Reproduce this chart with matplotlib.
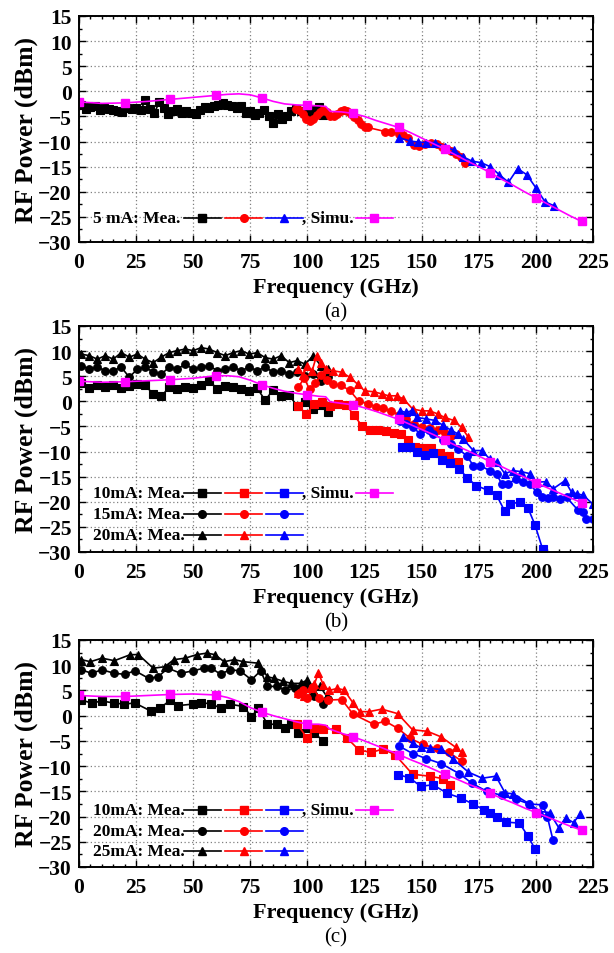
import matplotlib
matplotlib.use("Agg")
import matplotlib.pyplot as plt
from matplotlib.ticker import MultipleLocator

plt.rcParams['font.family'] = ['Liberation Serif', 'DejaVu Serif']

# ---------------- data: panel (a) 5 mA ----------------
a_blk_f = [1, 3, 5, 7, 9, 11, 13, 15, 17, 19, 21, 23, 25, 27, 29, 31, 33, 35, 37, 39,
           41, 43, 45, 47, 49, 51, 53, 55, 57, 59, 61, 63, 65, 67, 69, 71, 73, 75, 77, 79,
           81, 83, 85, 87, 89, 91, 93, 95, 97, 99, 101, 103, 105, 107]
a_blk_v = [-2.8, -3.6, -3.2, -3.0, -3.8, -3.3, -3.5, -3.8, -3.9, -4.2, -3.4, -3.6, -3.3, -3.8, -1.8, -3.5, -4.4, -2.2, -3.3, -4.5,
           -4.0, -3.6, -4.3, -4.0, -4.3, -4.6, -3.7, -3.2, -3.4, -2.9, -2.7, -2.4, -2.8, -3.0, -3.4, -3.0, -4.3, -4.0, -4.7, -4.3,
           -3.8, -5.0, -6.3, -4.6, -5.5, -5.0, -4.0, -3.5, -3.9, -4.3, -3.6, -4.5, -3.2, -4.8]
a_red_f = [95, 96.5, 98, 99.5, 101, 102.5, 104, 105.5, 107, 108.5, 110, 111.5, 113, 114.5, 116, 117.5, 119, 120.5, 122, 123.5,
           125, 126.5, 134, 136.5, 140, 142, 144, 146.5, 149, 151.5, 154, 156.5, 159, 161, 163, 165, 167, 169]
a_red_v = [-3.5, -3.8, -4.6, -5.5, -5.9, -5.6, -4.8, -4.1, -3.8, -4.2, -4.9, -5.0, -4.6, -3.9, -3.8, -4.0, -4.5, -5.2, -5.8, -6.6,
           -7.1, -7.2, -8.0, -8.0, -8.4, -8.7, -9.3, -10.7, -10.9, -10.4, -10.2, -10.5, -11.0, -11.4, -11.8, -12.4, -13.0, -14.3]
a_blu_f = [140, 145, 148.5, 152, 156, 160, 164, 168, 172, 176, 180, 184, 188, 192, 196, 200, 204, 208]
a_blu_v = [-9.2, -9.9, -10.1, -10.2, -10.2, -11.0, -11.7, -13.0, -13.9, -14.2, -15.0, -16.6, -18.1, -15.4, -16.6, -19.2, -22.0, -22.8]

sim_f = [0, 10, 20, 30, 40, 50, 60, 65, 70, 75, 80, 85, 90, 95, 100, 105, 108, 110, 115, 120,
         125, 130, 135, 140, 145, 150, 155, 160, 165, 170, 175, 180, 185, 190, 195, 200, 205, 210, 215, 220]
a_sim_v = [-2.1, -2.4, -2.3, -2.0, -1.6, -1.2, -0.8, -0.6, -0.5, -0.7, -1.3, -2.0, -2.5, -2.7, -2.8, -2.9, -3.0, -4.0, -4.1, -4.4,
           -5.0, -5.8, -6.5, -7.2, -8.2, -9.3, -10.4, -11.5, -12.7, -13.9, -15.0, -16.2, -17.5, -18.7, -20.0, -21.2, -22.4, -23.6, -24.8, -25.9]

# ---------------- data: panel (b) 10/15/20 mA ----------------
b_blk_f = [1, 4.5, 8, 11.5, 15, 18.5, 22, 25.5, 29, 32.5, 36, 39.5, 43, 46.5, 50, 53.5, 57, 60.5, 64, 67.5,
           71, 74.5, 78, 81.5, 85, 88.5, 92, 95.5, 99, 102.5, 106, 109]
b_blk_sq_v = [3.6, 2.6, 3.2, 2.8, 3.3, 2.7, 3.0, 3.4, 3.2, 1.4, 1.0, 2.8, 2.4, 2.9, 2.6, 3.2, 4.1, 2.5, 3.0, 2.8,
              2.4, 2.0, 2.6, 0.2, 2.3, 1.1, 1.2, -0.9, -0.2, -1.5, -0.8, -2.2]
b_blk_ci_v = [7.1, 6.4, 6.8, 6.1, 6.1, 6.8, 4.8, 6.4, 6.8, 5.8, 5.4, 6.8, 6.4, 7.4, 6.4, 6.8, 7.1, 6.1, 6.4, 6.8,
              6.1, 6.8, 6.1, 6.8, 5.8, 6.1, 5.4, 5.8, 5.1, 5.4, 4.1, 4.8]
b_blk_tr_v = [9.4, 9.1, 8.4, 9.1, 8.4, 9.7, 8.8, 9.4, 8.4, 7.7, 8.8, 9.7, 10.1, 10.4, 10.1, 10.7, 10.4, 9.7, 9.1, 9.7,
              10.1, 9.4, 9.7, 8.7, 8.4, 9.1, 7.7, 8.1, 7.4, 9.1, 7.0, 6.4]
b_red_sq_f = [96, 99.5, 103, 106.5, 110, 113.5, 117, 120.5, 124, 127.5, 131, 134.5, 138, 141, 144, 147, 150.5, 154, 158, 162, 166]
b_red_sq_v = [-0.9, -2.6, -0.5, -0.1, -0.9, -0.6, -0.8, -2.8, -5.0, -5.7, -5.7, -6.0, -6.4, -6.5, -7.6, -9.1, -9.3, -9.3, -10.3, -10.8, -12.0]
b_red_ci_f = [96, 98.5, 101, 103.5, 106, 108.5, 111, 114.5, 118.5, 122.5, 126.5, 130, 133, 136.5, 140, 143, 146.5, 150, 153.5, 157, 160, 163]
b_red_ci_v = [2.8, 4.6, 2.4, 3.6, 5.3, 4.2, 3.4, 3.2, 2.2, 0.0, -0.5, -1.1, -1.4, -1.9, -2.7, -3.6, -4.6, -5.1, -5.3, -5.8, -6.4, -6.9]
b_red_tr_f = [96, 98, 100, 102, 104, 106, 108, 111, 115, 118.5, 122, 125, 129, 132.5, 135.5, 139, 142, 146, 150, 153.5,
              157, 160, 164, 167.5, 170.5]
b_red_tr_v = [6.4, 5.2, 7.0, 6.0, 9.1, 7.6, 6.4, 6.1, 5.8, 4.8, 3.4, 2.1, 1.9, 1.5, 1.1, 1.1, 0.5, -1.5, -1.9, -1.9,
              -2.5, -3.2, -3.8, -5.2, -7.2]
b_blu_sq_f = [141.3, 145, 147.8, 151.5, 155, 158.7, 162.4, 166.5, 170, 174, 179, 182.8, 186.4, 188.6, 193, 196.6, 199.6, 203]
b_blu_sq_v = [-9.0, -9.1, -10.1, -10.7, -10.3, -11.6, -12.3, -13.4, -15.3, -16.8, -17.7, -18.7, -21.9, -20.4, -20.1, -21.3, -24.6, -29.5]
b_blu_ci_f = [140.5, 143, 146.4, 149.3, 153, 155, 159.5, 163, 166, 169.7, 172.6, 175.5, 179.9, 182.8, 185, 188, 191.5, 194.5,
              197.4, 200.3, 202.5, 205.4, 207.6, 210.5, 213.4, 218.5, 220.7, 222, 225]
b_blu_ci_v = [-4.0, -4.5, -5.2, -6.5, -5.8, -6.5, -7.6, -8.5, -9.5, -10.8, -12.8, -12.8, -13.8, -14.5, -16.4, -16.4, -15.4, -16.1,
              -16.4, -18.1, -19.1, -19.3, -19.1, -19.4, -19.1, -21.7, -22.0, -23.4, -23.4]
b_blu_tr_f = [140.5, 143, 145.6, 147.8, 152, 155.8, 159.5, 163, 166, 168.2, 172.6, 176.2, 179.9, 182.8, 186.4, 190, 193.6,
              197.4, 200.3, 204.4, 207.6, 212.7, 215.6, 217.8, 220.7, 224.8]
b_blu_tr_v = [-1.9, -2.2, -1.9, -3.2, -3.5, -3.8, -4.8, -5.8, -6.5, -7.5, -9.8, -9.8, -11.5, -12.1, -14.4, -13.8, -14.0,
              -14.4, -16.1, -16.0, -17.4, -15.8, -18.1, -18.4, -18.7, -20.4]
b_sim_v = [4.0, 3.8, 3.9, 4.1, 4.3, 4.6, 5.1, 5.1, 4.9, 4.2, 3.3, 2.6, 2.0, 1.6, 1.3, 1.0, 0.9, -0.1, -0.4, -0.7,
           -1.3, -2.0, -2.8, -3.6, -4.6, -5.6, -6.6, -7.7, -8.8, -9.8, -10.9, -12.0, -13.0, -14.1, -15.1, -16.2, -17.2, -18.2, -19.2, -20.2]

# ---------------- data: panel (c) 10/20/25 mA ----------------
c_blk_sq_f = [1, 5.5, 10, 15.5, 19.5, 24.5, 31.5, 35.5, 40, 43.5, 50, 53.5, 58, 62, 66, 72, 75.5, 78.5, 82.5, 86.5, 90, 93, 96, 100, 103, 107]
c_blk_sq_v = [3.1, 2.5, 2.9, 2.5, 2.3, 2.5, 0.9, 1.5, 3.1, 2.0, 2.3, 2.6, 2.3, 1.5, 2.3, 1.8, -0.2, 1.5, -1.7, -1.7, -2.5, -1.7, -3.5, -2.5, -3.5, -5.0]
c_blk_ci_f = [1, 5.5, 10, 15.5, 20, 24.5, 30.5, 34.5, 39, 44.5, 50, 54.5, 58, 62, 66, 70.5, 75.5, 79.5, 82.5, 86.5, 90, 94.5, 99, 103, 107, 109]
c_blk_ci_v = [9.1, 8.4, 9.1, 8.4, 8.2, 8.9, 7.4, 7.7, 9.4, 8.4, 8.9, 9.4, 9.4, 8.2, 9.1, 8.9, 7.1, 8.9, 5.8, 5.8, 5.1, 5.4, 5.8, 3.8, 2.3, 3.4]
c_blk_tr_f = [1, 5, 10, 15.5, 22.5, 26, 32.5, 37.5, 41.5, 46.5, 51.5, 56, 59.5, 63.5, 68, 72, 78.5, 82.5, 85.5, 89.5, 93, 97, 100, 102.5, 105.5, 108.5]
c_blk_tr_v = [11.1, 10.7, 11.4, 10.9, 12.1, 12.1, 9.4, 9.7, 11.1, 11.4, 12.1, 12.4, 12.1, 10.7, 11.1, 10.7, 10.4, 7.7, 7.4, 6.8, 6.4, 6.4, 7.1, 5.1, 5.8, 3.8]
c_red_sq_f = [95.5, 100, 103, 107, 112.5, 117.5, 122.5, 128, 133, 138.5, 146, 153.5, 159.5, 162.5]
c_red_sq_v = [-1.7, -4.5, -2.5, -2.6, -2.7, -4.5, -6.8, -7.3, -6.6, -7.8, -11.6, -12.0, -12.5, -13.8]
c_red_ci_f = [96, 98, 100, 102.5, 105, 109, 115, 120, 129, 134, 139.5, 145, 150.5, 156.5, 162, 167.5]
c_red_ci_v = [4.2, 5.0, 3.6, 5.6, 3.6, 3.1, 3.2, 0.3, -1.7, -1.1, -2.5, -4.5, -5.7, -6.5, -7.3, -9.0]
c_red_tr_f = [96, 98.5, 101, 103, 104.8, 107, 109.5, 113, 116, 120, 123, 127, 132.5, 139.5, 146, 152.5, 158.5, 165, 167.5]
c_red_tr_v = [4.4, 3.8, 5.5, 6.2, 8.5, 6.0, 5.0, 5.4, 5.1, 2.5, 0.8, 0.8, 1.3, 0.4, -2.8, -3.1, -4.2, -6.3, -7.3]
c_blu_sq_f = [139.7, 144.6, 149.6, 155, 161.2, 167, 172.4, 177.4, 179.7, 183, 187, 192.8, 196.4, 199.6]
c_blu_sq_v = [-11.7, -12.3, -14.0, -13.7, -15.4, -16.3, -17.5, -18.7, -19.2, -20.1, -21.1, -21.3, -23.8, -26.4]
c_blu_ci_f = [140, 146, 152, 158.5, 166.5, 172, 178.5, 185, 191.5, 197, 203, 205, 207.5]
c_blu_ci_v = [-6.0, -7.5, -8.5, -9.5, -11.5, -13.4, -15.0, -15.8, -16.6, -17.5, -17.7, -20.0, -24.7]
c_blu_tr_f = [142, 146, 149.5, 153.5, 158.5, 163.5, 170.5, 176.5, 182.5, 186.5, 190, 197.5, 202, 206, 210, 213, 216.5, 219.5]
c_blu_tr_v = [-4.2, -5.5, -6.3, -6.5, -6.7, -8.5, -11.2, -12.4, -12.0, -15.3, -15.5, -17.6, -19.0, -19.2, -22.2, -20.3, -21.2, -19.4]
c_sim_v = [4.0, 3.8, 3.8, 4.0, 4.2, 4.3, 4.1, 3.6, 2.8, 1.6, 0.7, 0.0, -0.6, -1.2, -1.7, -1.7, -1.9, -2.7, -3.5, -4.2,
           -5.0, -5.9, -6.8, -7.7, -8.7, -9.6, -10.6, -11.6, -12.5, -13.5, -14.4, -15.4, -16.4, -17.3, -18.3, -19.2, -20.1, -21.0, -21.9, -22.7]

x_ticks = [0, 25, 50, 75, 100, 125, 150, 175, 200, 225]
y_ticks = [-30, -25, -20, -15, -10, -5, 0, 5, 10, 15]

BLK, RED, BLU, MAG = '#000000', '#ff0000', '#0000ff', '#ff00ff'
MS = 5.5
LW = 1.2

fig = plt.figure(figsize=(6.14, 9.54), dpi=100)
L, W = 79 / 614, 514 / 614
rects = [(L, 1 - 243 / 954, W, 226 / 954),
         (L, 1 - 553 / 954, W, 226 / 954),
         (L, 1 - 868 / 954, W, 227 / 954)]
captions = ['(a)', '(b)', '(c)']


def style_axes(ax):
    ax.set_xlim(0, 225)
    ax.set_ylim(-30, 15)
    ax.set_xticks(x_ticks)
    ax.set_yticks(y_ticks)
    ax.xaxis.set_minor_locator(MultipleLocator(5))
    ax.yaxis.set_minor_locator(MultipleLocator(2.5))
    ax.tick_params(which='both', direction='in', top=True, right=True, width=1.0)
    ax.tick_params(which='major', length=5, labelsize=15.5)
    ax.tick_params(axis='x', which='major', pad=7)
    ax.tick_params(axis='y', which='major', pad=5)
    ax.tick_params(which='minor', length=2.5)
    for lab in ax.get_xticklabels() + ax.get_yticklabels():
        lab.set_fontweight('bold')
    for sp in ax.spines.values():
        sp.set_linewidth(1.4)
    ax.grid(True, which='major', linestyle=(0, (1, 2)), color='#808080', linewidth=0.9)
    ax.set_axisbelow(True)
    ax.set_xlabel('Frequency (GHz)', fontsize=16, fontweight='bold', labelpad=4)
    ax.set_ylabel('RF Power (dBm)', fontsize=18.5, fontweight='bold', labelpad=0)


def series(ax, f, v, color, marker):
    ax.plot(f, v, color=color, marker=marker, markersize=MS, linewidth=LW,
            markeredgewidth=0.8, markeredgecolor=color)


def sim(ax, v):
    mk = [i for i, f in enumerate(sim_f) if f % 20 == 0]
    ax.plot(sim_f, v, color=MAG, marker='s', markersize=MS, linewidth=LW,
            markevery=mk)


def legend_row(ax, y, text, markers, simu=False):
    tr = ax.transAxes
    ax.text(0.027, y, text, transform=tr, fontsize=12.5, fontweight='bold',
            va='center', ha='left')
    spans = [(0.204, 0.276, BLK), (0.284, 0.357, RED), (0.364, 0.435, BLU)]
    for (x0, x1, c), m in zip(spans, markers):
        ax.plot([x0, (x0 + x1) / 2, x1], [y, y, y], color=c, marker=m,
                markersize=MS, markevery=[1], linewidth=LW, transform=tr, clip_on=False)
    if simu:
        ax.text(0.433, y, ', Simu.', transform=tr, fontsize=12.5, fontweight='bold',
                va='center', ha='left')
        ax.plot([0.539, 0.5745, 0.610], [y, y, y], color=MAG, marker='s',
                markersize=MS, markevery=[1], linewidth=LW, transform=tr, clip_on=False)


axes = [fig.add_axes(r) for r in rects]

# panel (a)
ax = axes[0]
style_axes(ax)
series(ax, a_blk_f, a_blk_v, BLK, 's')
series(ax, a_red_f, a_red_v, RED, 'o')
series(ax, a_blu_f, a_blu_v, BLU, '^')
sim(ax, a_sim_v)
legend_row(ax, 0.107, '5 mA: Mea.', ['s', 'o', '^'], simu=True)

# panel (b)
ax = axes[1]
style_axes(ax)
series(ax, b_blk_f, b_blk_sq_v, BLK, 's')
series(ax, b_blk_f, b_blk_ci_v, BLK, 'o')
series(ax, b_blk_f, b_blk_tr_v, BLK, '^')
series(ax, b_red_sq_f, b_red_sq_v, RED, 's')
series(ax, b_red_ci_f, b_red_ci_v, RED, 'o')
series(ax, b_red_tr_f, b_red_tr_v, RED, '^')
series(ax, b_blu_sq_f, b_blu_sq_v, BLU, 's')
series(ax, b_blu_ci_f, b_blu_ci_v, BLU, 'o')
series(ax, b_blu_tr_f, b_blu_tr_v, BLU, '^')
sim(ax, b_sim_v)
legend_row(ax, 0.26, '10mA: Mea.', ['s'] * 3, simu=True)
legend_row(ax, 0.167, '15mA: Mea.', ['o'] * 3)
legend_row(ax, 0.075, '20mA: Mea.', ['^'] * 3)

# panel (c)
ax = axes[2]
style_axes(ax)
series(ax, c_blk_sq_f, c_blk_sq_v, BLK, 's')
series(ax, c_blk_ci_f, c_blk_ci_v, BLK, 'o')
series(ax, c_blk_tr_f, c_blk_tr_v, BLK, '^')
series(ax, c_red_sq_f, c_red_sq_v, RED, 's')
series(ax, c_red_ci_f, c_red_ci_v, RED, 'o')
series(ax, c_red_tr_f, c_red_tr_v, RED, '^')
series(ax, c_blu_sq_f, c_blu_sq_v, BLU, 's')
series(ax, c_blu_ci_f, c_blu_ci_v, BLU, 'o')
series(ax, c_blu_tr_f, c_blu_tr_v, BLU, '^')
sim(ax, c_sim_v)
legend_row(ax, 0.252, '10mA: Mea.', ['s'] * 3, simu=True)
legend_row(ax, 0.16, '20mA: Mea.', ['o'] * 3)
legend_row(ax, 0.072, '25mA: Mea.', ['^'] * 3)

for r, cap in zip(rects, captions):
    fig.text(r[0] + r[2] / 2, r[1] - 70 / 954, cap, ha='center', va='center', fontsize=15)

fig.savefig('out.png', dpi=100)
